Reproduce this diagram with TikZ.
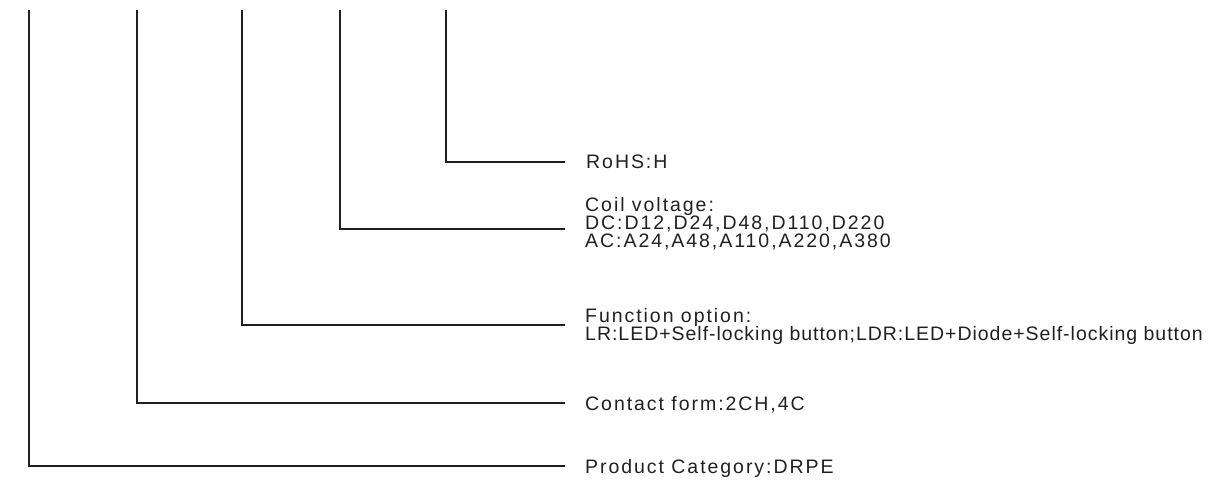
\documentclass[tikz,border=0pt]{standalone}
\usepackage{fontspec}
\setmainfont{Liberation Sans}
\newfontfamily\spaced[LetterSpace=10]{Liberation Sans}
\newfontfamily\tight[LetterSpace=5]{Liberation Sans}
\definecolor{ink}{RGB}{35,31,32}
\begin{document}
\begin{tikzpicture}[x=1pt,y=-1pt,
  lead/.style={draw=ink,line width=1.2pt},
  lbl/.style={anchor=base west,inner sep=0pt,text=ink,font=\spaced\fontsize{19.5}{19.5}\selectfont},
  lbltight/.style={anchor=base west,inner sep=0pt,text=ink,font=\tight\fontsize{19.5}{19.5}\selectfont}]
\useasboundingbox (0,0) rectangle (1231,481);
% tops of the vertical leads
\coordinate (t1) at (29,10);
\coordinate (t2) at (137,10);
\coordinate (t3) at (242,10);
\coordinate (t4) at (340,10);
\coordinate (t5) at (446,10);
% ends of the horizontal leads
\coordinate (e1) at (565,466);
\coordinate (e2) at (565,403);
\coordinate (e3) at (565,325);
\coordinate (e4) at (565,229);
\coordinate (e5) at (565,162);
% labels
\node[lbl] (rohs) at (586,169) {RoHS:H};
\node[lbl] (coil1) at (585,211.5) {Coil voltage:};
\node[lbl] (coil2) at (585,229.5) {DC:D12,D24,D48,D110,D220};
\node[lbl] (coil3) at (585,247.5) {AC:A24,A48,A110,A220,A380};
\node[lbl] (func1) at (585,322) {Function option:};
\node[lbltight] (func2) at (585,340) {LR:LED+Self-locking button;LDR:LED+Diode+Self-locking button};
\node[lbl] (cont) at (585,410) {Contact form:2CH,4C};
\node[lbl] (prod) at (585,473) {Product Category:DRPE};
% leads
\draw[lead] (t1) |- (e1);
\draw[lead] (t2) |- (e2);
\draw[lead] (t3) |- (e3);
\draw[lead] (t4) |- (e4);
\draw[lead] (t5) |- (e5);
\end{tikzpicture}
\end{document}
